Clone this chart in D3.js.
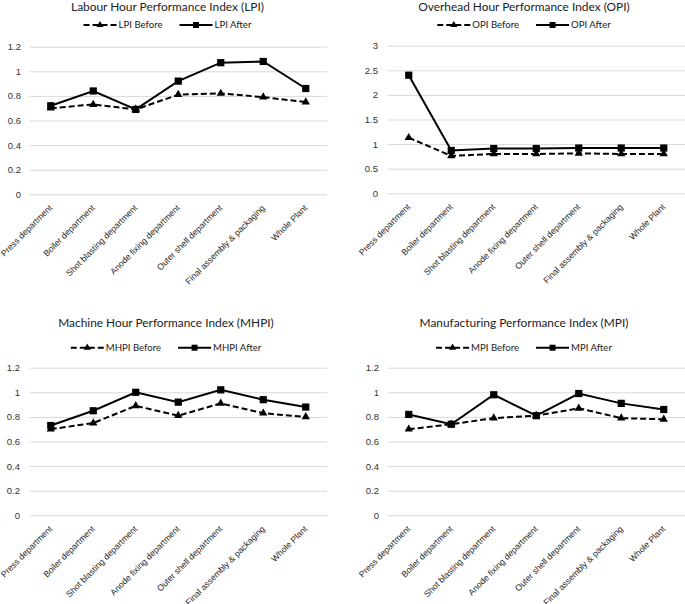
<!DOCTYPE html>
<html><head><meta charset="utf-8">
<script src="https://cdn.jsdelivr.net/npm/d3@7"></script>
<style>
body{margin:0;background:#fff;}
svg{display:block;font-family:Lato,"Open Sans",sans-serif;}
</style></head>
<body><svg id="c" width="685" height="604"></svg>
<script>
const categories = ["Press department","Boiler department","Shot blasting department","Anode fixing department","Outer shell department","Final assembly & packaging","Whole Plant"];

const lpiBefore  = [0.70, 0.73, 0.69, 0.81, 0.82, 0.79, 0.75];
const lpiAfter   = [0.72, 0.84, 0.69, 0.92, 1.07, 1.08, 0.86];
const opiBefore  = [1.13, 0.76, 0.80, 0.80, 0.81, 0.80, 0.80];
const opiAfter   = [2.40, 0.87, 0.91, 0.91, 0.92, 0.92, 0.92];
const mhpiBefore = [0.70, 0.75, 0.89, 0.81, 0.91, 0.83, 0.80];
const mhpiAfter  = [0.73, 0.85, 1.00, 0.92, 1.02, 0.94, 0.88];
const mpiBefore  = [0.70, 0.74, 0.79, 0.81, 0.87, 0.79, 0.78];
const mpiAfter   = [0.82, 0.74, 0.98, 0.81, 0.99, 0.91, 0.86];

const ticksSmall = [0, 0.2, 0.4, 0.6, 0.8, 1, 1.2];
const ticksOPI   = [0, 0.5, 1, 1.5, 2, 2.5, 3];

const panels = [
  {title:"Labour Hour Performance Index (LPI)", key:"LPI", before:lpiBefore, after:lpiAfter, ticks:ticksSmall, max:1.2,
   x0:29.5, x1:327, yTop:46.7, yBot:194.3, titleX:167.5, titleY:11, legY:25, labX:21},
  {title:"Overhead Hour Performance Index (OPI)", key:"OPI", before:opiBefore, after:opiAfter, ticks:ticksOPI, max:3,
   x0:387.5, x1:685, yTop:45.7, yBot:193.3, titleX:524, titleY:11, legY:25, labX:378},
  {title:"Machine Hour Performance Index (MHPI)", key:"MHPI", before:mhpiBefore, after:mhpiAfter, ticks:ticksSmall, max:1.2,
   x0:29.5, x1:327, yTop:367.7, yBot:515.3, titleX:166, titleY:327, legY:347.7, labX:20},
  {title:"Manufacturing Performance Index (MPI)", key:"MPI", before:mpiBefore, after:mpiAfter, ticks:ticksSmall, max:1.2,
   x0:387.5, x1:685, yTop:367.7, yBot:515.3, titleX:524, titleY:327, legY:347.7, labX:379}
];

const svg = d3.select("#c");
const tri = d3.symbol().type(d3.symbolTriangle).size(30);
const sq = d3.symbol().type(d3.symbolSquare).size(52);
const triL = d3.symbol().type(d3.symbolTriangle).size(22);
const sqL = d3.symbol().type(d3.symbolSquare).size(36);

panels.forEach(p => {
  const g = svg.append("g");
  const x = d3.scaleBand().domain(categories).range([p.x0, p.x1]);
  const cx = c => x(c) + x.bandwidth()/2;
  const y = d3.scaleLinear().domain([0, p.max]).range([p.yBot, p.yTop]);

  // grid + y labels
  const ya = g.append("g").attr("transform", `translate(${p.x0},0)`)
    .call(d3.axisLeft(y).tickValues(p.ticks).tickSize(-(p.x1 - p.x0)).tickPadding(p.x0 - p.labX).tickFormat(d3.format("")));
  ya.select(".domain").remove();
  ya.selectAll(".tick line").attr("stroke", "#d9d9d9").attr("stroke-width", 1);
  ya.selectAll(".tick text").attr("fill", "#333").style("font-size", "9.5px");

  // x labels
  const xa = g.append("g").attr("transform", `translate(0,${p.yBot})`)
    .call(d3.axisBottom(x).tickSize(0));
  xa.select(".domain").remove();
  xa.selectAll(".tick text")
    .attr("fill", "#262626").style("font-size", "8.7px")
    .attr("text-anchor", "end")
    .attr("x", 0).attr("y", 0).attr("dy", "0.35em")
    .attr("transform", "translate(0,12) rotate(-45)");

  const line = d3.line().x((d,i) => cx(categories[i])).y(d => y(d));

  g.append("path").datum(p.before).attr("d", line).attr("fill", "none")
    .attr("stroke", "#000").attr("stroke-width", 2).attr("stroke-dasharray", "6,3");
  g.append("path").datum(p.after).attr("d", line).attr("fill", "none")
    .attr("stroke", "#000").attr("stroke-width", 2);

  g.selectAll(".tri").data(p.before).join("path")
    .attr("d", tri).attr("fill", "#000")
    .attr("transform", (d,i) => `translate(${cx(categories[i])},${y(d)})`);
  g.selectAll(".sq").data(p.after).join("path")
    .attr("d", sq).attr("fill", "#000")
    .attr("transform", (d,i) => `translate(${cx(categories[i])},${y(d)})`);

  // title
  g.append("text").attr("x", p.titleX).attr("y", p.titleY).attr("text-anchor", "middle")
    .attr("fill", "#222").style("font-size", "11.9px").text(p.title);

  // legend
  const labB = p.key + " Before", labA = p.key + " After";
  const lg = g.append("g");
  const tB = lg.append("text").style("font-size", "9.6px").text(labB);
  const tA = lg.append("text").style("font-size", "9.6px").text(labA);
  const wB = tB.node().getComputedTextLength(), wA = tA.node().getComputedTextLength();
  const lineW = 33, gap = 2, sep = 17;
  const total = lineW + gap + wB + sep + lineW + gap + wA;
  let sx = p.titleX - total/2;
  const ly = p.legY;
  lg.append("line").attr("x1", sx).attr("x2", sx+lineW).attr("y1", ly).attr("y2", ly)
    .attr("stroke", "#000").attr("stroke-width", 2).attr("stroke-dasharray", "6,3");
  lg.append("path").attr("d", triL).attr("transform", `translate(${sx+lineW/2},${ly})`);
  tB.attr("x", sx+lineW+gap).attr("y", ly+3.4).attr("fill", "#222");
  sx += lineW + gap + wB + sep;
  lg.append("line").attr("x1", sx).attr("x2", sx+lineW).attr("y1", ly).attr("y2", ly)
    .attr("stroke", "#000").attr("stroke-width", 2);
  lg.append("path").attr("d", sqL).attr("transform", `translate(${sx+lineW/2},${ly})`);
  tA.attr("x", sx+lineW+gap).attr("y", ly+3.4).attr("fill", "#222");
});
</script></body></html>
